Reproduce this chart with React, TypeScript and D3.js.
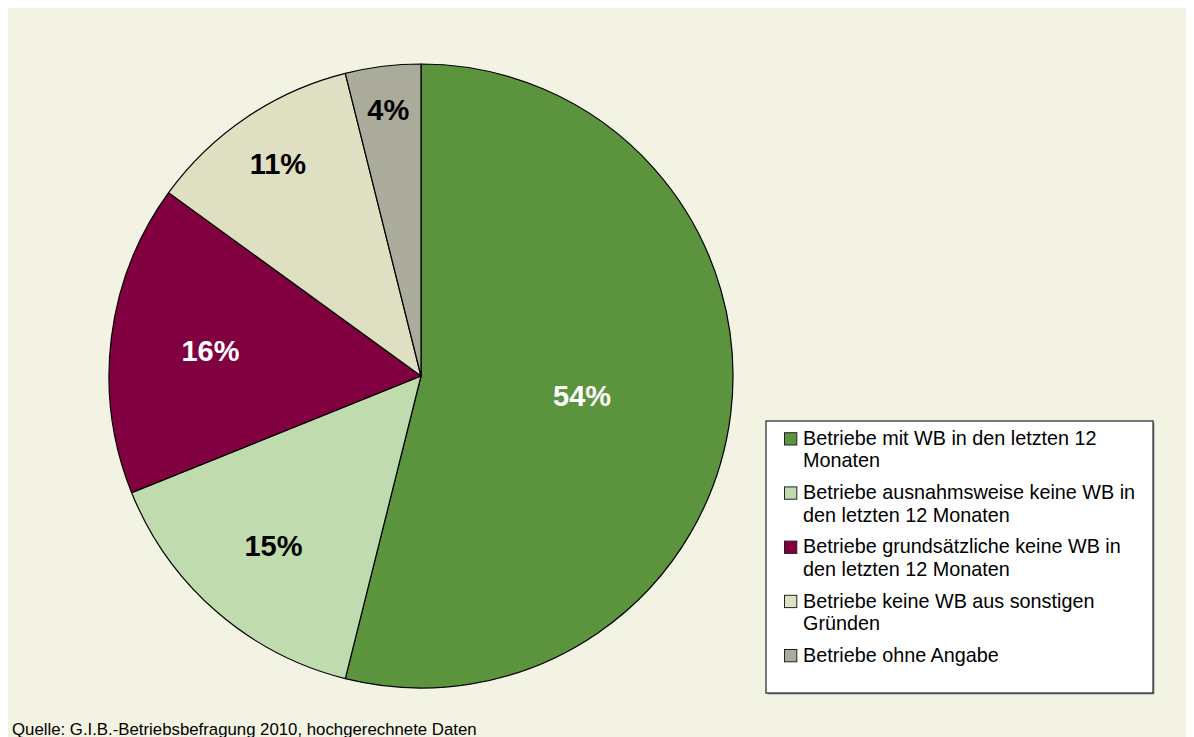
import React from "react";
import * as d3 from "d3";

const categories = [
  "Betriebe mit WB in den letzten 12 Monaten",
  "Betriebe ausnahmsweise keine WB in den letzten 12 Monaten",
  "Betriebe grundsätzliche keine WB in den letzten 12 Monaten",
  "Betriebe keine WB aus sonstigen Gründen",
  "Betriebe ohne Angabe",
];
const legendLines = [
  ["Betriebe mit WB in den letzten 12", "Monaten"],
  ["Betriebe ausnahmsweise keine WB in", "den letzten 12 Monaten"],
  ["Betriebe grundsätzliche keine WB in", "den letzten 12 Monaten"],
  ["Betriebe keine WB aus sonstigen", "Gründen"],
  ["Betriebe ohne Angabe"],
];
const values = [53.9, 15.0, 16.1, 11.1, 3.9];
const valueLabels = ["54%", "15%", "16%", "11%", "4%"];
const colors = ["#5C933D", "#C0DCAE", "#800040", "#DFDFC1", "#ABAB9B"];
const labelColors = ["#FFFFFF", "#000000", "#FFFFFF", "#000000", "#000000"];
const labelRadiusFrac = [0.52, 0.72, 0.68, 0.82, 0.86];
const sourceText = "Quelle: G.I.B.-Betriebsbefragung 2010, hochgerechnete Daten";

const W = 1186;
const H = 729;
const cx = 413;
const cy = 368;
const R = 312;
const FONT = "'Liberation Sans', Arial, sans-serif";

export default function App() {
  const pie = d3
    .pie<number>()
    .sort(null)
    .value((d) => d)
    .startAngle(0)
    .endAngle(2 * Math.PI);
  const arcs = pie(values);
  const arc = d3.arc<d3.PieArcDatum<number>>().innerRadius(0).outerRadius(R);

  const legX = 758;
  const legY = 413;
  const legW = 387;
  const legH = 272;
  const firstBase = 437;
  const itemPitch = 54.2;
  const lineH = 22.3;

  return (
    <svg width={W} height={H} style={{ display: "block" }} fontFamily={FONT}>
      <rect x={0} y={0} width={W} height={H} fill="#F3F3E4" />
      <g transform={`translate(${cx},${cy})`}>
        {arcs.map((a, i) => (
          <path key={i} d={arc(a) || ""} fill={colors[i]} stroke="#000" strokeWidth={1.2} strokeLinejoin="round" />
        ))}
        {arcs.map((a, i) => {
          const mid = (a.startAngle + a.endAngle) / 2;
          const r = R * labelRadiusFrac[i];
          const x = r * Math.sin(mid);
          const y = -r * Math.cos(mid);
          return (
            <text
              key={i}
              x={x}
              y={y}
              dy="0.36em"
              textAnchor="middle"
              fontSize={29}
              fontWeight="bold"
              fill={labelColors[i]}
            >
              {valueLabels[i]}
            </text>
          );
        })}
      </g>
      <rect x={legX + 1.5} y={legY + 1.5} width={legW} height={legH} fill="#9a9a9a" />
      <rect x={legX} y={legY} width={legW} height={legH} fill="#FFFFFF" stroke="#222" strokeWidth={1.2} />
      {categories.map((c, i) => {
        const base = firstBase + i * itemPitch;
        return (
          <g key={c}>
            <rect x={776.5} y={base - 12.3} width={12.3} height={12.3} fill={colors[i]} stroke="#222" strokeWidth={1} />
            {legendLines[i].map((ln, j) => (
              <text key={j} x={795} y={base + j * lineH} fontSize={19.8} fill="#000">
                {ln}
              </text>
            ))}
          </g>
        );
      })}
      <text x={4} y={727} fontSize={16.8} fill="#000">
        {sourceText}
      </text>
    </svg>
  );
}
